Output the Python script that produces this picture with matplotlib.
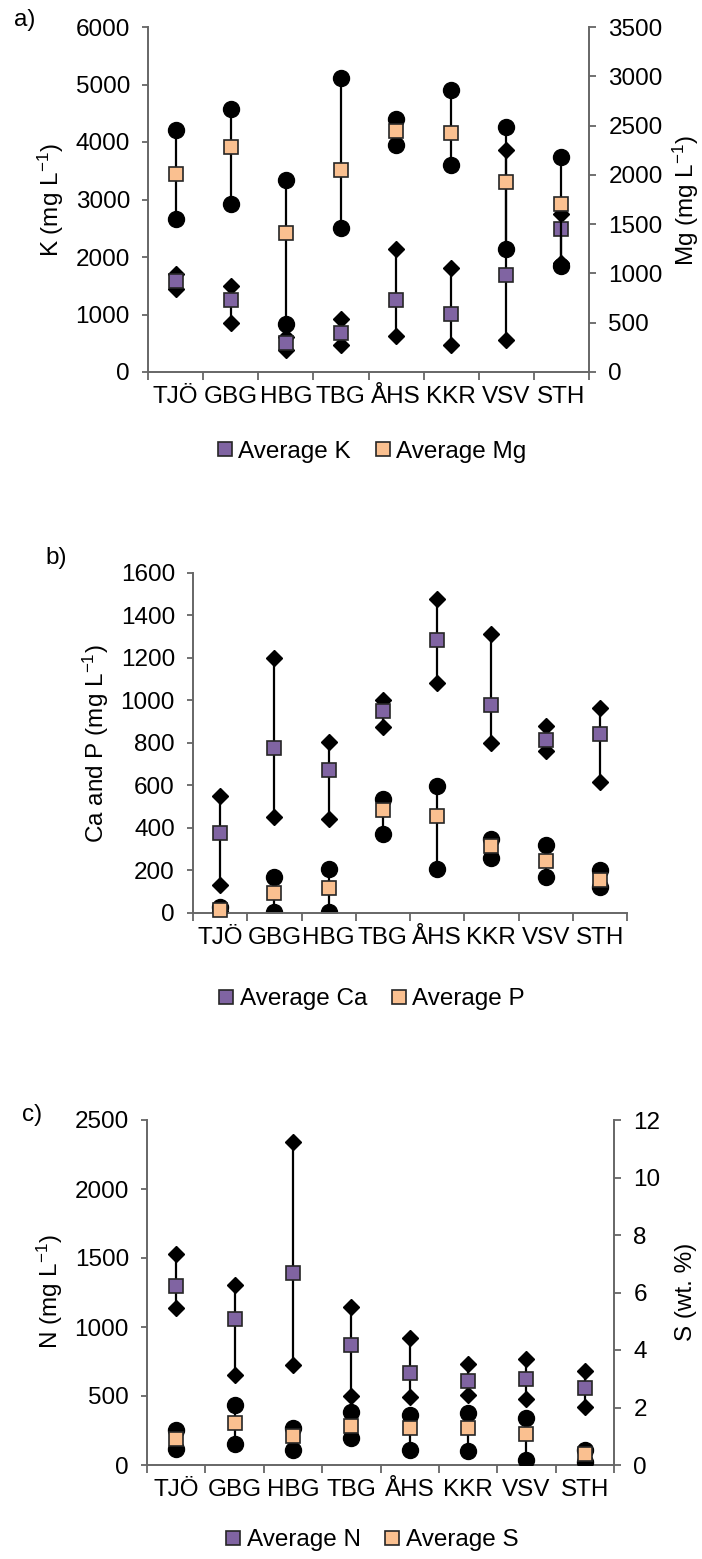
import matplotlib
matplotlib.use("Agg")
import matplotlib.pyplot as plt
from matplotlib.lines import Line2D
import numpy as np

plt.rcParams["font.family"] = ["Liberation Sans", "DejaVu Sans"]
plt.rcParams["mathtext.default"] = "regular"
plt.rcParams["font.size"] = 17.5

W, H = 702, 1559

sites = ["TJÖ", "GBG", "HBG", "TBG", "ÅHS", "KKR", "VSV", "STH"]

# panel a: K on the left axis, Mg on the right axis (mg/L)
k_avg = [1590, 1250, 500, 670, 1250, 1015, 1690, 2490]
k_max = [1710, 1490, 610, 920, 2145, 1815, 3860, 2740]
k_min = [1440, 860, 390, 470, 630, 470, 560, 1900]
mg_avg = [2012, 2283, 1410, 2046, 2445, 2425, 1928, 1704]
mg_max = [2452, 2672, 1948, 2986, 2570, 2864, 2486, 2181]
mg_min = [1556, 1701, 487, 1461, 2300, 2097, 1251, 1075]

# panel b: Ca and P (mg/L)
ca_avg = [376, 776, 674, 952, 1286, 980, 816, 842]
ca_max = [549, 1200, 803, 1004, 1478, 1315, 878, 965]
ca_min = [133, 452, 442, 874, 1082, 800, 761, 615]
p_avg = [13, 94, 118, 483, 455, 314, 243, 157]
p_max = [28, 168, 207, 538, 599, 348, 322, 204]
p_min = [2, 4, 4, 372, 207, 259, 168, 121]

# panel c: N (mg/L) on the left, S (wt. %) on the right
n_avg = [1299, 1056, 1388, 869, 666, 608, 626, 557]
n_max = [1527, 1304, 2338, 1147, 917, 735, 765, 684]
n_min = [1140, 651, 722, 502, 494, 507, 481, 423]
s_avg = [0.89, 1.46, 1.00, 1.34, 1.30, 1.28, 1.09, 0.39]
s_max = [1.22, 2.07, 1.28, 1.86, 1.73, 1.82, 1.64, 0.52]
s_min = [0.55, 0.73, 0.52, 0.95, 0.52, 0.49, 0.18, 0.12]

PURPLE = "#8064A2"
ORANGE = "#FAC090"
EDGE = "#262626"
AXIS = "#666666"


def axes_rect(left, top, right, bottom):
    return [left / W, 1 - bottom / H, (right - left) / W, (bottom - top) / H]


def draw_series(ax, avg, hi, lo, marker, ms, face):
    x = np.arange(1, len(sites) + 1)
    ax.vlines(x, lo, hi, color="black", lw=1.6, zorder=1)
    ax.plot(x, hi, ls="none", marker=marker, ms=ms, color="black", zorder=2)
    ax.plot(x, lo, ls="none", marker=marker, ms=ms, color="black", zorder=2)
    ax.plot(x, avg, ls="none", marker="s", ms=9.5, mfc=face, mec=EDGE,
            mew=1.2, zorder=3, clip_on=False)


def style_left(ax, ymax, step):
    ax.set_xlim(0.5, len(sites) + 0.5)
    ax.set_ylim(0, ymax)
    ax.set_yticks(np.arange(0, ymax + step / 2, step))
    ax.set_xticks(np.arange(0.5, len(sites) + 1, 1))
    ax.set_xticklabels([])
    ax.set_xticks(np.arange(1, len(sites) + 1), minor=True)
    ax.set_xticklabels(sites, minor=True)
    ax.tick_params(axis="x", which="major", length=5.5, width=1.3,
                   color=AXIS, direction="out")
    ax.tick_params(axis="x", which="minor", length=0, pad=10)
    ax.tick_params(axis="y", length=4, width=1.3, color=AXIS, pad=9)
    for side in ["top", "right"]:
        ax.spines[side].set_visible(False)
    for side in ["left", "bottom"]:
        ax.spines[side].set_color(AXIS)
        ax.spines[side].set_linewidth(1.4)


def style_right(ax2, ymax, step):
    ax2.set_ylim(0, ymax)
    ax2.set_yticks(np.arange(0, ymax + step / 2, step))
    ax2.tick_params(axis="y", length=5, width=1.3, color=AXIS, pad=9)
    for side in ["top", "left", "bottom"]:
        ax2.spines[side].set_visible(False)
    ax2.spines["right"].set_color(AXIS)
    ax2.spines["right"].set_linewidth(1.4)


def add_legend(fig, labels, y):
    handles = [
        Line2D([], [], ls="none", marker="s", ms=9.5, mfc=PURPLE, mec=EDGE, mew=1.2),
        Line2D([], [], ls="none", marker="s", ms=9.5, mfc=ORANGE, mec=EDGE, mew=1.2),
    ]
    fig.legend(handles, labels, loc="center", bbox_to_anchor=(372 / W, 1 - y / H),
               ncol=2, frameon=False, handlelength=0.6, handletextpad=0.25,
               columnspacing=1.0, borderpad=0, fontsize=17.5)


def label(fig, x, y, text, rot=0):
    fig.text(x / W, 1 - y / H, text, rotation=rot, ha="center", va="center", fontsize=17.5)


fig = plt.figure(figsize=(W / 100, H / 100), dpi=100)

# a)
ax_a = fig.add_axes(axes_rect(148, 27, 589, 372))
draw_series(ax_a, k_avg, k_max, k_min, "D", 7.8, PURPLE)
style_left(ax_a, 6000, 1000)
ax_a2 = ax_a.twinx()
draw_series(ax_a2, mg_avg, mg_max, mg_min, "o", 11.5, ORANGE)
style_right(ax_a2, 3500, 500)
label(fig, 25, 20, "a)")
label(fig, 51, 200, "K (mg L$^{-1}$)", 90)
label(fig, 686, 200, "Mg (mg L$^{-1}$)", 90)
add_legend(fig, ["Average K", "Average Mg"], 452)

# b)
ax_b = fig.add_axes(axes_rect(193, 573, 627, 913))
draw_series(ax_b, ca_avg, ca_max, ca_min, "D", 7.8, PURPLE)
draw_series(ax_b, p_avg, p_max, p_min, "o", 11.5, ORANGE)
style_left(ax_b, 1600, 200)
label(fig, 56, 558, "b)")
label(fig, 96, 744, "Ca and P (mg L$^{-1}$)", 90)
add_legend(fig, ["Average Ca", "Average P"], 999)

# c)
ax_c = fig.add_axes(axes_rect(147, 1120, 614, 1465))
draw_series(ax_c, n_avg, n_max, n_min, "D", 7.8, PURPLE)
style_left(ax_c, 2500, 500)
ax_c2 = ax_c.twinx()
draw_series(ax_c2, s_avg, s_max, s_min, "o", 11.5, ORANGE)
style_right(ax_c2, 12, 2)
label(fig, 32, 1115, "c)")
label(fig, 50, 1292, "N (mg L$^{-1}$)", 90)
label(fig, 686, 1292, "S (wt. %)", 90)
add_legend(fig, ["Average N", "Average S"], 1540)

fig.savefig("out.png", dpi=100)
